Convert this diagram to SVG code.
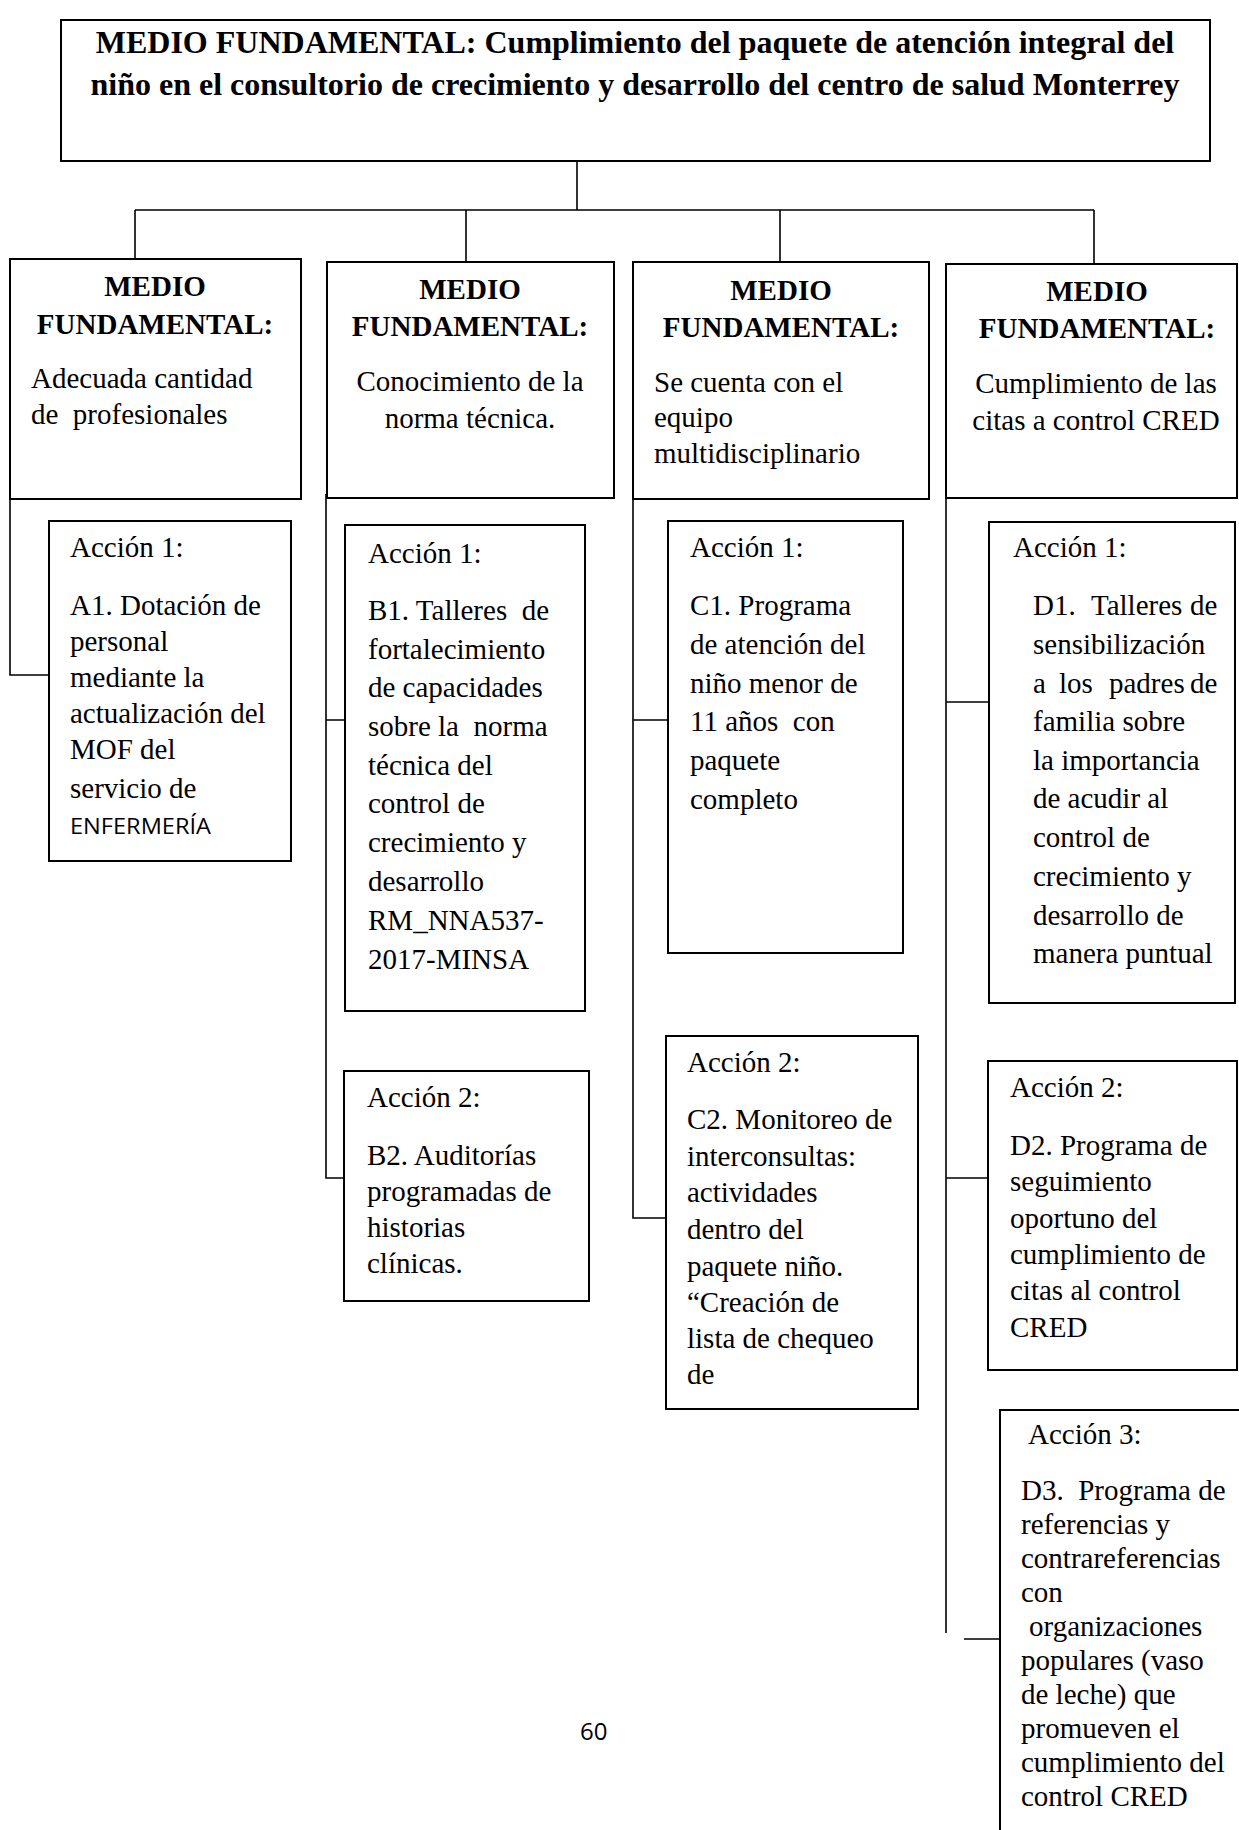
<svg xmlns="http://www.w3.org/2000/svg" width="1239" height="1830" viewBox="0 0 1239 1830">
<style>
.bg{fill:#fff}
.box{fill:#fff;stroke:#000;stroke-width:2}
.ln{fill:none;stroke:#000;stroke-width:1.6}
.t{font-family:"Liberation Serif","Times New Roman",serif;font-size:29px;fill:#000}
.b{font-weight:bold}
.ttl{font-family:"Liberation Serif","Times New Roman",serif;font-size:32px;font-weight:bold;fill:#000}
.s{font-family:"Open Sans","Noto Sans",sans-serif;fill:#000}
</style>
<rect class="bg" x="0" y="0" width="1239" height="1830"/>

<g id="connectors">
  <path class="ln" d="M577,161 V210 M135,210 H1094 M135,210 V259 M466,210 V262 M780,210 V262 M1094,210 V264"/>
  <path class="ln" d="M10,499 V675 H52"/>
  <path class="ln" d="M326,494 V1178 H344 M326,720 H345"/>
  <path class="ln" d="M633,499 V1218 H666 M633,720 H668"/>
  <path class="ln" d="M946,498 V1633 M946,702 H989 M946,1178 H988 M964,1639 H1013"/>
</g>

<g id="top">
  <rect class="box" x="61" y="20" width="1149" height="141" stroke-width="2.4"/>
  <text class="ttl" x="635" y="53" text-anchor="middle">MEDIO FUNDAMENTAL: Cumplimiento del paquete de atención integral del</text>
  <text class="ttl" x="635" y="95" text-anchor="middle">niño en el consultorio de crecimiento y desarrollo del centro de salud Monterrey</text>
</g>

<g id="mfA">
  <rect class="box" x="10" y="259" width="291" height="240"/>
  <text class="t b" x="155" y="296" text-anchor="middle">MEDIO</text>
  <text class="t b" x="155" y="334" text-anchor="middle">FUNDAMENTAL:</text>
  <text class="t" x="31" y="388">Adecuada cantidad</text>
  <text class="t" x="31" y="424" xml:space="preserve">de  profesionales</text>
</g>

<g id="mfB">
  <rect class="box" x="327" y="262" width="287" height="236"/>
  <text class="t b" x="470" y="299" text-anchor="middle">MEDIO</text>
  <text class="t b" x="470" y="336" text-anchor="middle">FUNDAMENTAL:</text>
  <text class="t" x="470" y="391" text-anchor="middle">Conocimiento de la</text>
  <text class="t" x="470" y="428" text-anchor="middle">norma técnica.</text>
</g>

<g id="mfC">
  <rect class="box" x="633" y="262" width="296" height="237"/>
  <text class="t b" x="781" y="300" text-anchor="middle">MEDIO</text>
  <text class="t b" x="781" y="337" text-anchor="middle">FUNDAMENTAL:</text>
  <text class="t" x="654" y="392">Se cuenta con el</text>
  <text class="t" x="654" y="427">equipo</text>
  <text class="t" x="654" y="463">multidisciplinario</text>
</g>

<g id="mfD">
  <rect class="box" x="946" y="264" width="291" height="234"/>
  <text class="t b" x="1097" y="301" text-anchor="middle">MEDIO</text>
  <text class="t b" x="1097" y="338" text-anchor="middle">FUNDAMENTAL:</text>
  <text class="t" x="1096" y="393" text-anchor="middle">Cumplimiento de las</text>
  <text class="t" x="1096" y="430" text-anchor="middle">citas a control CRED</text>
</g>

<g id="a1">
  <rect class="box" x="49" y="521" width="242" height="340"/>
  <text class="t" x="70" y="557">Acción 1:</text>
  <text class="t" x="70" y="615">A1. Dotación de</text>
  <text class="t" x="70" y="651">personal</text>
  <text class="t" x="70" y="687">mediante la</text>
  <text class="t" x="70" y="723">actualización del</text>
  <text class="t" x="70" y="759">MOF del</text>
  <text class="t" x="70" y="798">servicio de</text>
  <text class="s" x="70" y="834" font-size="22" textLength="141" lengthAdjust="spacingAndGlyphs">ENFERMERÍA</text>
</g>

<g id="b1">
  <rect class="box" x="345" y="525" width="240" height="486"/>
  <text class="t" x="368" y="563">Acción 1:</text>
  <text class="t" x="368" y="620" xml:space="preserve">B1. Talleres  de</text>
  <text class="t" x="368" y="659">fortalecimiento</text>
  <text class="t" x="368" y="697">de capacidades</text>
  <text class="t" x="368" y="736" xml:space="preserve">sobre la  norma</text>
  <text class="t" x="368" y="775">técnica del</text>
  <text class="t" x="368" y="813">control de</text>
  <text class="t" x="368" y="852">crecimiento y</text>
  <text class="t" x="368" y="891">desarrollo</text>
  <text class="t" x="368" y="930">RM_NNA537-</text>
  <text class="t" x="368" y="969">2017-MINSA</text>
</g>

<g id="b2">
  <rect class="box" x="344" y="1071" width="245" height="230"/>
  <text class="t" x="367" y="1107">Acción 2:</text>
  <text class="t" x="367" y="1165">B2. Auditorías</text>
  <text class="t" x="367" y="1201">programadas de</text>
  <text class="t" x="367" y="1237">historias</text>
  <text class="t" x="367" y="1273">clínicas.</text>
</g>

<g id="c1">
  <rect class="box" x="668" y="521" width="235" height="432"/>
  <text class="t" x="690" y="557">Acción 1:</text>
  <text class="t" x="690" y="615">C1. Programa</text>
  <text class="t" x="690" y="654">de atención del</text>
  <text class="t" x="690" y="693">niño menor de</text>
  <text class="t" x="690" y="731" xml:space="preserve">11 años  con</text>
  <text class="t" x="690" y="770">paquete</text>
  <text class="t" x="690" y="809">completo</text>
</g>

<g id="c2">
  <rect class="box" x="666" y="1036" width="252" height="373"/>
  <text class="t" x="687" y="1072">Acción 2:</text>
  <text class="t" x="687" y="1129">C2. Monitoreo de</text>
  <text class="t" x="687" y="1166">interconsultas:</text>
  <text class="t" x="687" y="1202">actividades</text>
  <text class="t" x="687" y="1239">dentro del</text>
  <text class="t" x="687" y="1276">paquete niño.</text>
  <text class="t" x="687" y="1312">“Creación de</text>
  <text class="t" x="687" y="1348">lista de chequeo</text>
  <text class="t" x="687" y="1384">de</text>
</g>

<g id="d1">
  <rect class="box" x="989" y="522" width="246" height="481"/>
  <text class="t" x="1013" y="557">Acción 1:</text>
  <text class="t" y="615"><tspan x="1033">D1.</tspan><tspan x="1091">Talleres</tspan><tspan x="1190">de</tspan></text>
  <text class="t" x="1033" y="654">sensibilización</text>
  <text class="t" y="693"><tspan x="1033">a</tspan><tspan x="1059">los</tspan><tspan x="1109">padres</tspan><tspan x="1190">de</tspan></text>
  <text class="t" x="1033" y="731">familia sobre</text>
  <text class="t" x="1033" y="770">la importancia</text>
  <text class="t" x="1033" y="808">de acudir al</text>
  <text class="t" x="1033" y="847">control de</text>
  <text class="t" x="1033" y="886">crecimiento y</text>
  <text class="t" x="1033" y="925">desarrollo de</text>
  <text class="t" x="1033" y="963">manera puntual</text>
</g>

<g id="d2">
  <rect class="box" x="988" y="1061" width="249" height="309"/>
  <text class="t" x="1010" y="1097">Acción 2:</text>
  <text class="t" x="1010" y="1155">D2. Programa de</text>
  <text class="t" x="1010" y="1191">seguimiento</text>
  <text class="t" x="1010" y="1228">oportuno del</text>
  <text class="t" x="1010" y="1264">cumplimiento de</text>
  <text class="t" x="1010" y="1300">citas al control</text>
  <text class="t" x="1010" y="1337">CRED</text>
</g>

<g id="d3">
  <path class="box" d="M1239,1410 H1000 V1830" fill="none"/>
  <text class="t" x="1028" y="1444">Acción 3:</text>
  <text class="t" x="1021" y="1500" xml:space="preserve">D3.  Programa de</text>
  <text class="t" x="1021" y="1534">referencias y</text>
  <text class="t" x="1021" y="1568">contrareferencias</text>
  <text class="t" x="1021" y="1602">con</text>
  <text class="t" x="1029" y="1636">organizaciones</text>
  <text class="t" x="1021" y="1670">populares (vaso</text>
  <text class="t" x="1021" y="1704">de leche) que</text>
  <text class="t" x="1021" y="1738">promueven el</text>
  <text class="t" x="1021" y="1772">cumplimiento del</text>
  <text class="t" x="1021" y="1806">control CRED</text>
</g>

<text class="s" x="580" y="1740" font-size="24">60</text>
</svg>
